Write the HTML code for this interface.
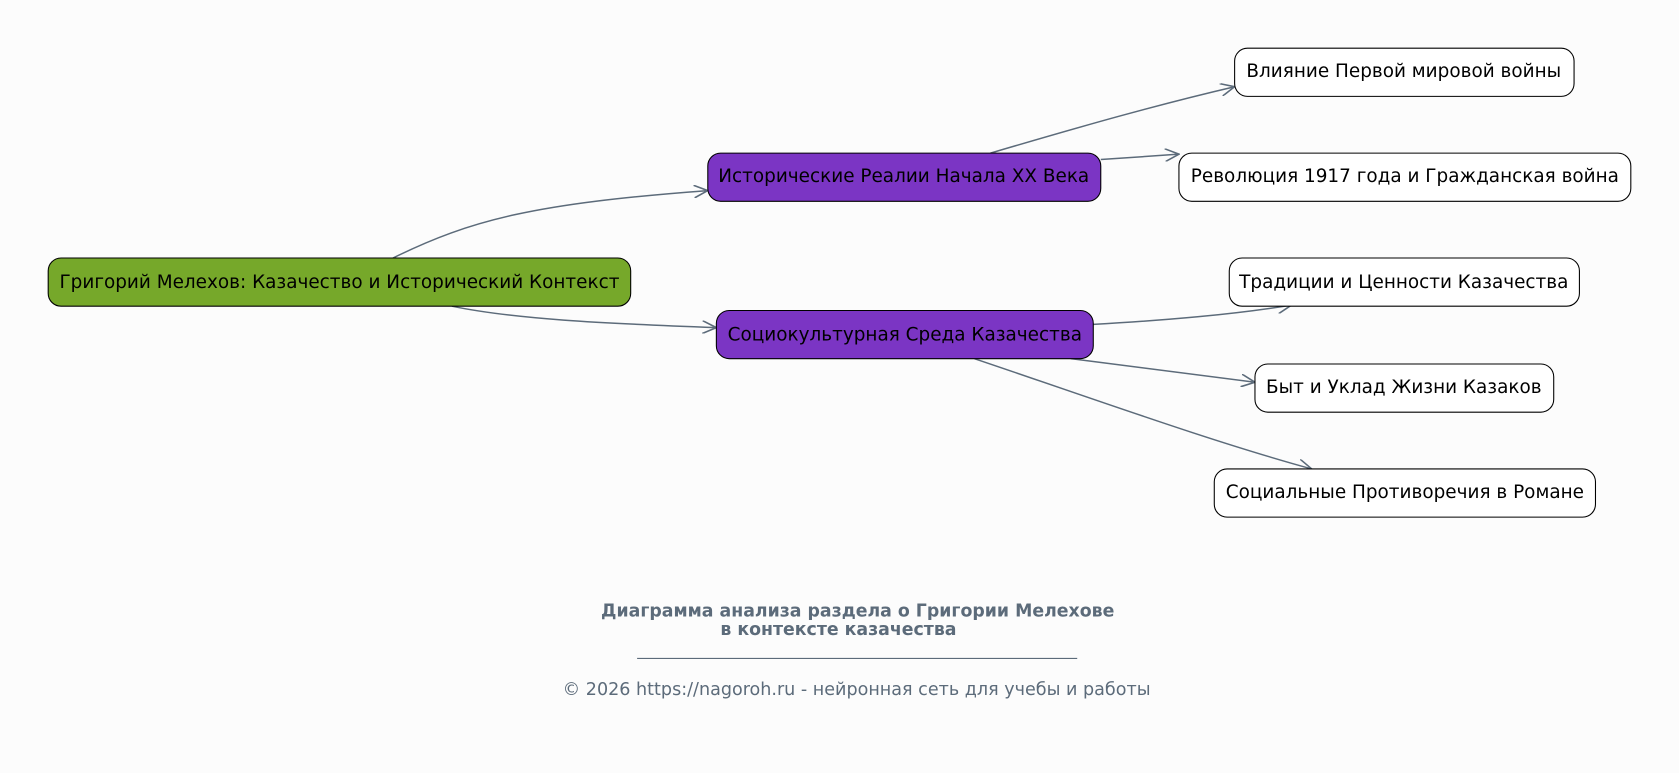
<!DOCTYPE html>
<html><head><meta charset="utf-8"><style>
html,body{margin:0;padding:0;background:#fcfcfc;}
svg{display:block;}
text{font-family:"DejaVu Sans","Liberation Sans",sans-serif;}
</style></head><body>
<svg width="1679" height="773" viewBox="0 0 1568 722" preserveAspectRatio="none" xmlns="http://www.w3.org/2000/svg">
<rect width="1568" height="722" fill="#fcfcfc"/>
<defs><marker id="a" markerWidth="14" markerHeight="12" refX="13" refY="6" orient="auto" markerUnits="userSpaceOnUse"><path d="M0,0 L13,6 L0,12" fill="none" stroke="#5c6b7a" stroke-width="1.5"/></marker></defs>
<g fill="none" stroke="#5c6b7a" stroke-width="1.4" marker-end="url(#a)">
<path d="M367,241 C440,205 500,190 661,178"/>
<path d="M422,286 C480,298 560,302 669,306"/>
<path d="M925,143 C1010,118 1080,98 1153,81"/>
<path d="M1028,149 L1101,144"/>
<path d="M1021,303 C1090,299 1150,294 1206,285"/>
<path d="M1000,335 L1172,357"/>
<path d="M910,335 C1020,372 1130,412 1225,438"/>
</g>
<g stroke="#000" stroke-width="1">
<rect x="45" y="241" width="544" height="45" rx="12" fill="#76a82a"/>
<rect x="661" y="143" width="367" height="45" rx="12" fill="#7b35c4"/>
<rect x="669" y="290" width="352" height="45" rx="12" fill="#7b35c4"/>
<rect x="1153" y="45" width="317" height="45" rx="12" fill="#fff"/>
<rect x="1101" y="143" width="422" height="45" rx="12" fill="#fff"/>
<rect x="1148" y="241" width="327" height="45" rx="12" fill="#fff"/>
<rect x="1172" y="340" width="279" height="45" rx="12" fill="#fff"/>
<rect x="1134" y="438" width="356" height="45" rx="12" fill="#fff"/>
</g>
<g font-size="17.2" fill="#000" text-anchor="middle">
<text x="317" y="269">Григорий Мелехов: Казачество и Исторический Контекст</text>
<text x="844" y="170">Исторические Реалии Начала XX Века</text>
<text x="845" y="318">Социокультурная Среда Казачества</text>
<text x="1311" y="72">Влияние Первой мировой войны</text>
<text x="1312" y="170">Революция 1917 года и Гражданская война</text>
<text x="1311" y="269">Традиции и Ценности Казачества</text>
<text x="1311" y="367">Быт и Уклад Жизни Казаков</text>
<text x="1312" y="465">Социальные Противоречия в Романе</text>
</g>
<g fill="#5c6b7a" text-anchor="middle">
<text x="801" y="576" font-size="16.2" font-weight="bold">Диаграмма анализа раздела о Григории Мелехове</text>
<text x="783" y="593" font-size="16.2" font-weight="bold">в контексте казачества</text>
<line x1="595" y1="615" x2="1006" y2="615" stroke="#5c6b7a" stroke-width="1"/>
<text x="800" y="649" font-size="16.4">© 2026 https://nagoroh.ru - нейронная сеть для учебы и работы</text>
</g>
</svg>
</body></html>
